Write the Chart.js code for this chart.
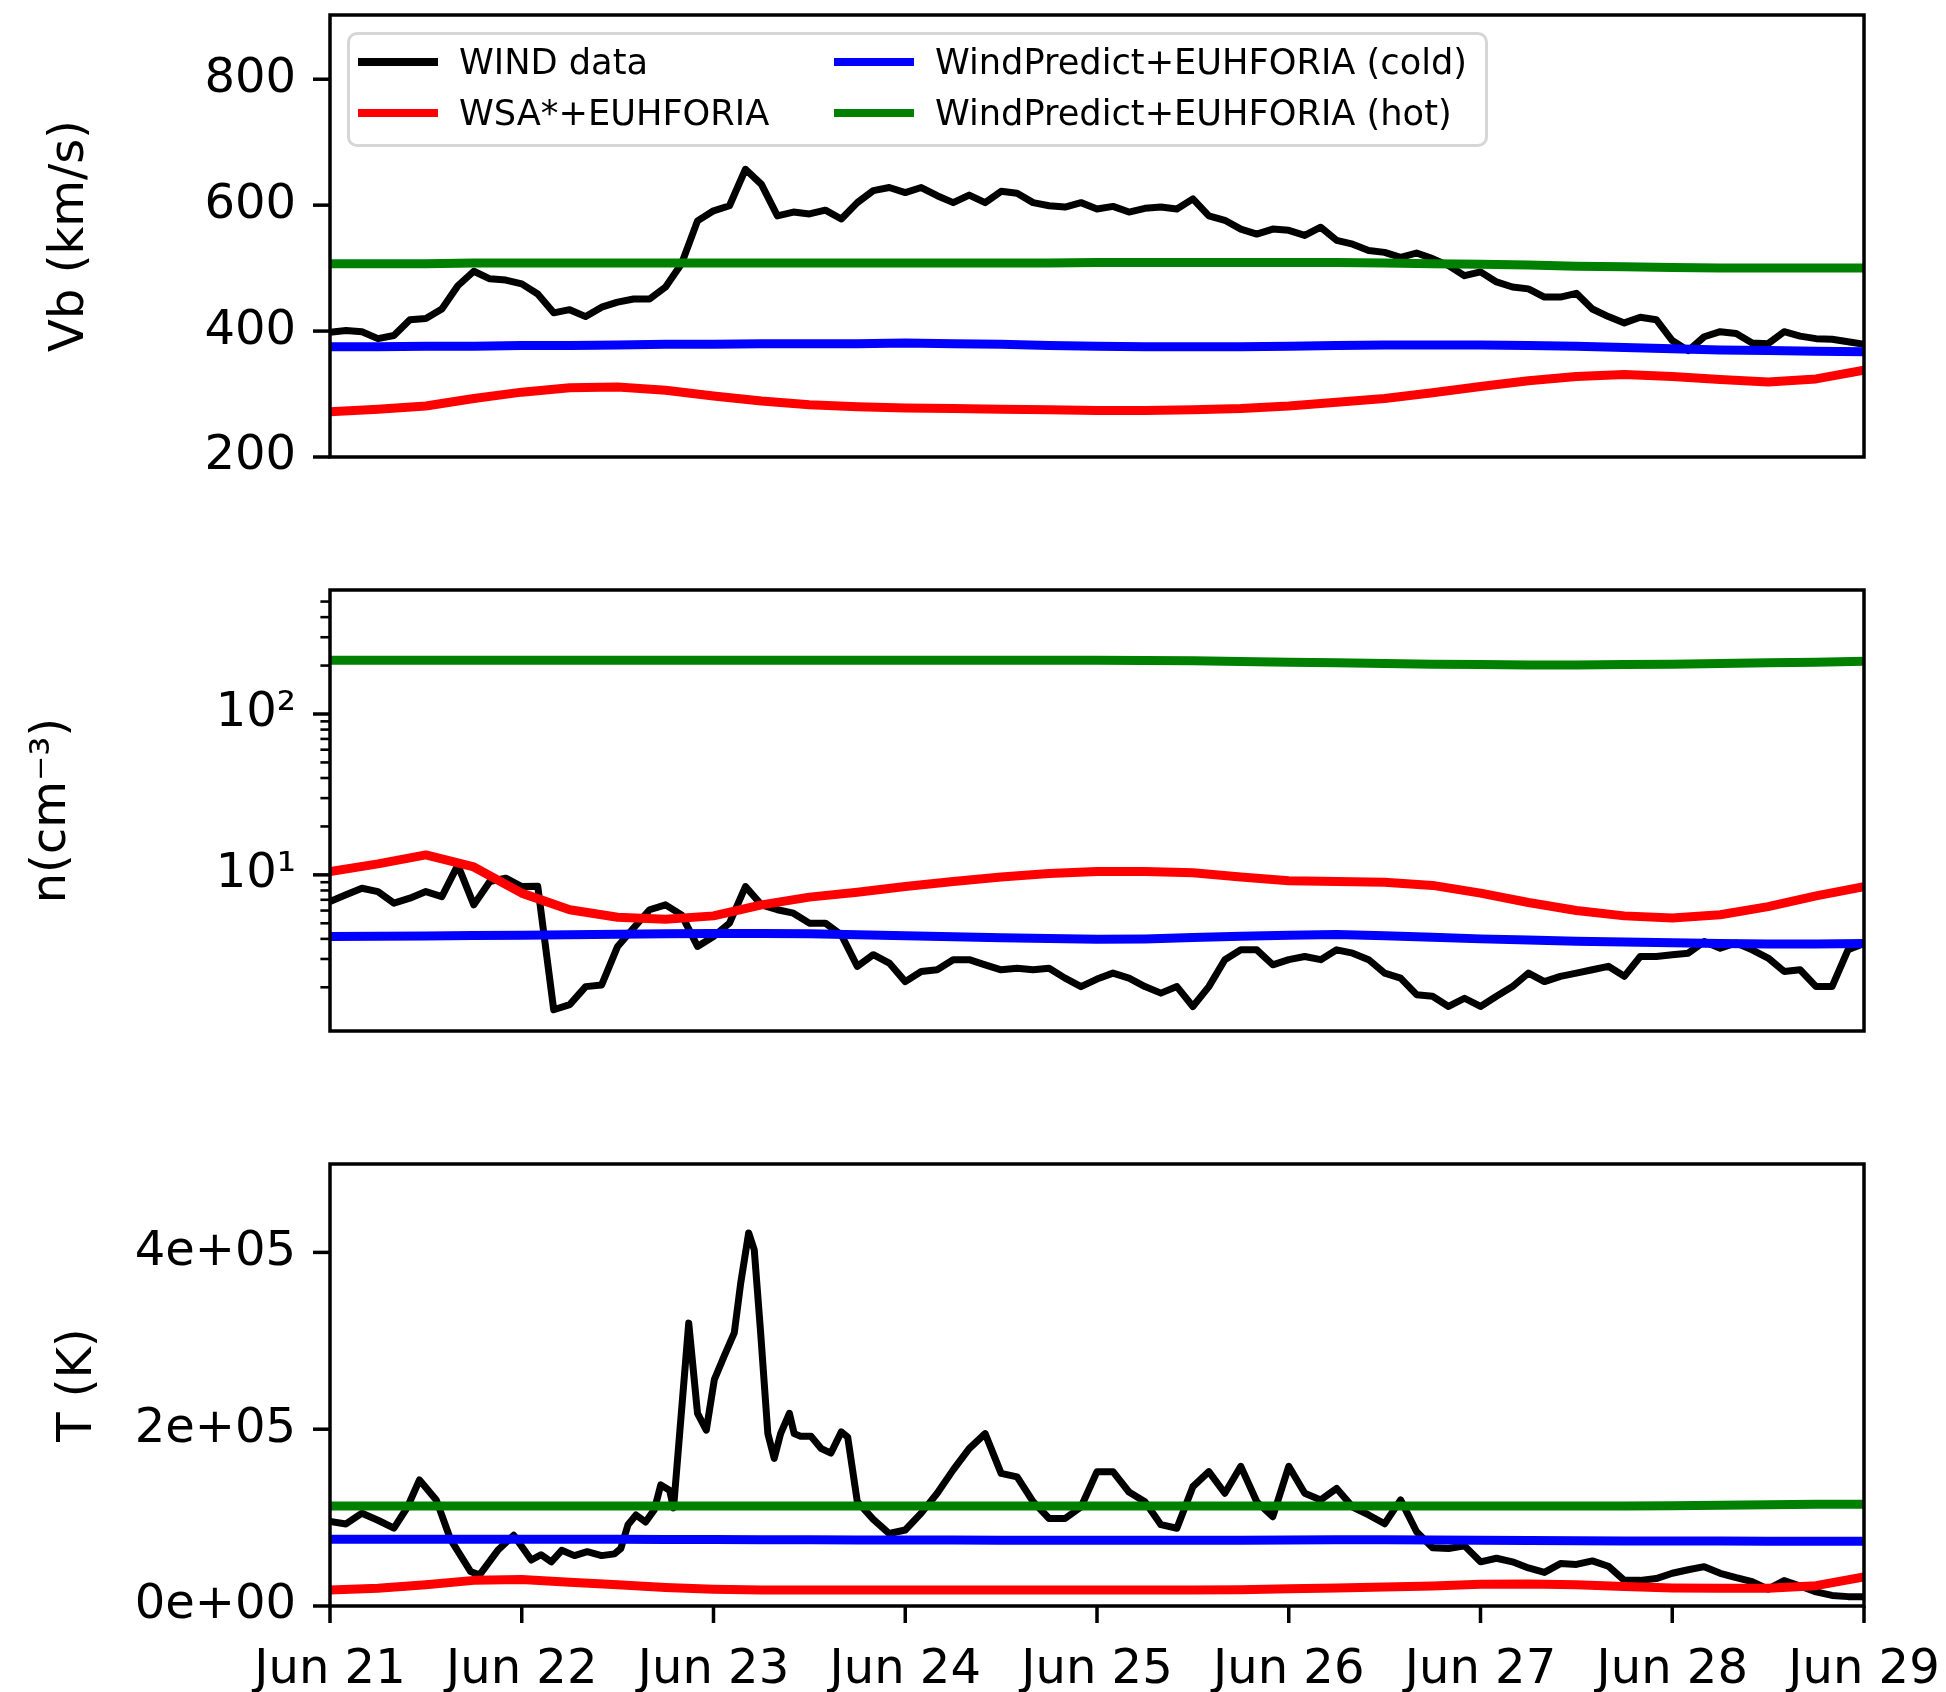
<!DOCTYPE html>
<html>
<head>
<meta charset="utf-8">
<title>WIND vs EUHFORIA</title>
<script src="https://cdn.jsdelivr.net/npm/chart.js@4.4.1/dist/chart.umd.min.js"></script>
<style>
  html, body { margin: 0; padding: 0; background: #fff; }
  #page { position: relative; width: 1946px; height: 1692px; overflow: hidden; background: #fff; }
  canvas { position: absolute; left: 0; }
  #legend {
    position: absolute; left: 347px; top: 32px; width: 1141px; height: 115px;
    box-sizing: border-box; border: 3px solid #d6d6d6; border-radius: 10px;
    background: rgba(255, 255, 255, 0.8);
    font-family: 'DejaVu Sans', sans-serif; font-size: 35.2px; color: #000;
  }
  .item { position: absolute; height: 40px; line-height: 40px; white-space: nowrap; }
  .item .swatch { position: absolute; left: 0; top: 16px; width: 80px; height: 8px; }
  .item .txt { position: absolute; left: 101px; top: 0; }
</style>
</head>
<body>
<div id="page">
  <canvas id="vbChart" width="1946" height="520" style="top:0px"></canvas>
  <canvas id="nChart" width="1946" height="560" style="top:530px"></canvas>
  <canvas id="tChart" width="1946" height="592" style="top:1100px"></canvas>
  <div id="legend"></div>
</div>
<script>
// ============================================================
// Solar wind at L1, Jun 21-29: WIND data vs EUHFORIA runs
// ============================================================

var xTickLabels = ['Jun 21', 'Jun 22', 'Jun 23', 'Jun 24', 'Jun 25', 'Jun 26', 'Jun 27', 'Jun 28', 'Jun 29'];
var seriesNames = ['WIND data', 'WSA*+EUHFORIA', 'WindPredict+EUHFORIA (cold)', 'WindPredict+EUHFORIA (hot)'];
var seriesColors = ['#000000', '#ff0000', '#0000ff', '#008000'];

// WIND observations, one sample every 2 h from Jun 21 00:00
var windStepHours = 2;
var windVb = [398, 401, 399, 388, 393, 418, 420, 435, 472, 495, 483, 481, 475, 459, 429, 434, 423, 438, 446, 451,
    451, 470, 507, 575, 591, 599, 657, 633, 583, 589, 586, 592, 578, 604, 623, 628, 620, 628, 615, 604,
    616, 604, 622, 619, 604, 599, 597, 604, 594, 598, 589, 595, 597, 594, 610, 583, 576, 562, 554, 562,
    560, 552, 565, 544, 538, 528, 525, 517, 524, 515, 504, 488, 494, 478, 470, 467, 454, 454, 460, 435,
    423, 413, 422, 418, 385, 369, 391, 399, 396, 381, 380, 399, 392, 388, 387, 383, 379];
var windN = [6.83, 7.52, 8.26, 7.87, 6.67, 7.16, 7.87, 7.33, 11.5, 6.51, 9.1, 9.54, 8.46, 8.5, 1.45, 1.56, 2.02, 2.07, 3.59, 4.67,
    6.07, 6.51, 5.64, 3.59, 4.14, 5.01, 8.46, 6.51, 6.07, 5.78, 5.01, 5.01, 4.24, 2.70, 3.19, 2.83, 2.17, 2.51, 2.57, 2.97,
    2.97, 2.76, 2.57, 2.63, 2.57, 2.63, 2.28, 2.02, 2.25, 2.45, 2.28, 2.02, 1.84, 2.02, 1.52, 2.02, 2.97, 3.42, 3.42, 2.76,
    2.97, 3.11, 2.97, 3.42, 3.26, 2.97, 2.45, 2.28, 1.80, 1.76, 1.52, 1.71, 1.52, 1.76, 2.02, 2.45, 2.17, 2.34, 2.45, 2.57,
    2.70, 2.34, 3.11, 3.11, 3.19, 3.26, 3.85, 3.50, 3.77, 3.42, 3.04, 2.51, 2.57, 2.02, 2.02, 3.42, 3.75];

// temperature keeps its own sample times (hours) so the narrow peaks survive
var windTHours = [0, 2, 4, 6, 8, 9.7, 11.2, 13.3, 15.1, 17.6, 18.7, 21, 23, 25.2, 26.4, 27.7, 29, 30.6, 32.2, 34,
    35.6, 36.4, 37.3, 38.3, 39.5, 40.6, 41.4, 42.5, 43, 44.9, 46, 47.1, 48.1, 49.4, 50.6, 51.4, 52.4, 53.1, 53.9, 54.8,
    55.6, 56.4, 57.5, 58.1, 58.9, 60.2, 61.5, 62.7, 64, 64.8, 66, 68, 70, 72, 74, 76, 78, 80, 82, 84,
    86, 88, 90, 92, 94, 96, 98, 100, 102, 104, 106, 108, 110, 112, 114, 116, 118, 120, 122, 124,
    126, 128, 130, 132, 134, 136, 138, 140, 142, 144, 146, 148, 150, 152, 154, 156, 158, 160, 162, 164,
    166, 168, 170, 172, 174, 176, 178, 180, 182, 184, 186, 188, 190, 192];
var windT = [95500, 92800, 105000, 97000, 88000, 112000, 142600, 120000, 75000, 39000, 35000, 63000, 80000, 52000, 58000, 50000, 63000, 57000, 61500, 57000,
    59000, 65000, 92000, 103000, 95000, 109000, 137000, 131000, 111000, 320000, 218000, 199000, 256000, 284000, 309000, 365000, 422000, 403000, 309000, 195000,
    167000, 195000, 218000, 195000, 192000, 192000, 178000, 173000, 197000, 191000, 118000, 98000, 82000, 86000, 105000, 127500, 154000, 178000, 195000, 150000,
    146000, 118000, 99000, 99000, 112000, 152000, 152000, 129000, 118000, 92000, 88000, 135000, 152000, 127500, 158000, 118000, 101000, 158000, 127500, 120000,
    133000, 112000, 103000, 93000, 120000, 84000, 66000, 65000, 68000, 50000, 54000, 50000, 43000, 38000, 48000, 47000, 51000, 45000, 29000, 29000,
    31000, 37000, 41000, 44500, 37000, 32000, 27500, 19000, 28700, 22600, 16000, 12000, 10600, 10600];

// model runs, one sample every 6 h
var modelStepHours = 6;
var wsaVb = [272, 276, 281, 293, 303, 310, 311, 306, 297, 289, 283, 280, 278, 277, 276, 275, 274,
    274, 275, 277, 281, 287, 293, 302, 312, 321, 328, 331, 328, 323, 319, 324, 338];
var coldVb = [375, 375, 376, 376, 377, 377, 378, 379, 379, 380, 380, 380, 381, 380, 379, 377, 376,
    375, 375, 375, 376, 377, 378, 378, 378, 377, 376, 374, 372, 370, 369, 368, 367];
var hotVb = [507, 507, 507, 508, 508, 508, 508, 508, 508, 508, 508, 508, 508, 508, 508, 508, 509,
    509, 509, 509, 509, 509, 508, 507, 506, 505, 503, 502, 501, 500, 500, 500, 500];

var wsaN = [10.5, 11.7, 13.3, 11.2, 7.7, 6.07, 5.45, 5.3, 5.56, 6.51, 7.27, 7.8, 8.46, 9.1, 9.7, 10.2, 10.5,
    10.5, 10.3, 9.7, 9.2, 9.1, 9.0, 8.6, 7.7, 6.73, 6.0, 5.56, 5.4, 5.65, 6.35, 7.4, 8.46];
var coldN = [4.14, 4.15, 4.17, 4.2, 4.22, 4.25, 4.28, 4.3, 4.32, 4.32, 4.3, 4.25, 4.18, 4.12, 4.06, 4.02, 3.98,
    4.0, 4.08, 4.15, 4.22, 4.26, 4.18, 4.1, 4.0, 3.93, 3.86, 3.82, 3.78, 3.74, 3.72, 3.72, 3.74];
var hotN = [216, 216, 216, 216, 216, 216, 216, 216, 216, 216, 216, 216, 216, 216, 216, 216, 216,
    215, 214, 212, 210, 208, 206, 204, 203, 202, 202, 203, 204, 206, 208, 210, 213];

var wsaT = [18000, 20000, 24000, 29000, 30000, 27000, 24000, 21000, 19000, 18000, 18000, 18000, 18000, 18000, 18000, 18000, 18000,
    18000, 18000, 18500, 19500, 20500, 21500, 22500, 24500, 25000, 24000, 22000, 20500, 20000, 20000, 23000, 33000];
var coldT = [75500, 75500, 75500, 75500, 75500, 75500, 75500, 75300, 75200, 75000, 75000, 74800, 74800, 74600, 74500, 74500, 74500,
    74500, 74500, 74500, 74800, 75000, 75000, 74800, 74500, 74000, 73800, 73600, 73500, 73400, 73300, 73200, 73200];
var hotT = [113000, 113000, 113000, 113000, 113000, 113000, 113000, 113000, 113000, 113000, 113000, 113000, 113000, 113000, 113000, 113000, 113000,
    113000, 113000, 113000, 113000, 113000, 113000, 113000, 113000, 113000, 113000, 113000, 113500, 114000, 114500, 115000, 115000];

// y tick positions
var vbTicks = [200, 400, 600, 800];
var nTicks = [2, 3, 4, 5, 6, 7, 8, 9, 10, 20, 30, 40, 50, 60, 70, 80, 90, 100, 200, 300, 400, 500];  // labelled at powers of ten
var tTicks = [0, 200000, 400000];

// ------------------------------------------------------------

var FONT = 'DejaVu Sans';
var AXIS_W = 330;       // left margin (y axis area)
var PAD_R = 82;         // right margin

function gridHours(step, n) {
    var out = [];
    for (var i = 0; i < n; i++) out.push(i * step);
    return out;
}

function toPoints(hours, values) {
    return values.map(function (v, i) { return { x: hours[i], y: v }; });
}

function lineSet(idx, hours, values) {
    return {
        label: seriesNames[idx],
        data: toPoints(hours, values),
        borderColor: seriesColors[idx],
        backgroundColor: seriesColors[idx],
        borderWidth: idx === 0 ? 7 : 9,
        borderJoinStyle: 'round',
        pointRadius: 0,
        tension: 0,
        fill: false,
        order: 4 - idx
    };
}

var isPow10 = function (v) {
    var l = Math.log10(v);
    return Math.abs(l - Math.round(l)) < 1e-9;
};

function fixedTicks(values) {
    return function (scale) {
        scale.ticks = values.map(function (v) { return { value: v }; });
    };
}

// matplotlib style frame + outward ticks
var frameTicks = {
    id: 'frameTicks',
    afterDraw: function (chart, args, opts) {
        var ctx = chart.ctx, a = chart.chartArea;
        ctx.save();
        ctx.strokeStyle = '#000';
        ctx.lineCap = 'butt';
        var ys = chart.scales.y;
        ys.ticks.forEach(function (t) {
            var py = ys.getPixelForValue(t.value);
            var major = opts.logMinor ? isPow10(t.value) : true;
            ctx.lineWidth = major ? 3.5 : 2.6;
            var len = major ? 17 : 9.6;
            ctx.beginPath();
            ctx.moveTo(a.left - len, py);
            ctx.lineTo(a.left, py);
            ctx.stroke();
        });
        if (opts.xTicks) {
            var xs = chart.scales.x;
            ctx.lineWidth = 3.5;
            xs.ticks.forEach(function (t) {
                var px = xs.getPixelForValue(t.value);
                ctx.beginPath();
                ctx.moveTo(px, a.bottom);
                ctx.lineTo(px, a.bottom + 17);
                ctx.stroke();
            });
        }
        ctx.lineWidth = 3.5;
        ctx.strokeRect(a.left, a.top, a.right - a.left, a.bottom - a.top);
        ctx.restore();
    }
};

function makePanel(canvasId, cfg) {
    var ctx = document.getElementById(canvasId);
    var showX = !!cfg.showX;
    var yScale = {
        type: cfg.yType,
        position: 'left',
        min: cfg.yMin,
        max: cfg.yMax,
        border: { display: false },
        grid: { display: true, drawOnChartArea: false, drawTicks: false },
        ticks: {
            color: '#000',
            font: { family: FONT, size: 48 },
            padding: 34,
            autoSkip: false,
            callback: cfg.yLabel
        },
        title: {
            display: true,
            text: cfg.yTitle,
            color: '#000',
            font: { family: FONT, size: 48 },
            padding: { top: cfg.titlePad, bottom: 0 }
        },
        afterBuildTicks: fixedTicks(cfg.yTicks),
        afterFit: function (scale) {
            scale.width = AXIS_W;
            scale.paddingTop = 0;
            scale.paddingBottom = 0;
        }
    };

    return new Chart(ctx, {
        type: 'line',
        data: { datasets: cfg.datasets },
        options: {
            responsive: false,
            devicePixelRatio: 1,
            animation: false,
            events: [],
            layout: { padding: { left: 0, right: PAD_R, top: cfg.padTop, bottom: cfg.padBottom } },
            plugins: {
                legend: { display: false },
                tooltip: { enabled: false },
                frameTicks: { xTicks: showX, logMinor: cfg.yType === 'logarithmic' }
            },
            scales: {
                x: {
                    type: 'linear',
                    min: 0,
                    max: 192,
                    display: showX,
                    border: { display: false },
                    grid: { display: true, drawOnChartArea: false, drawTicks: false },
                    ticks: {
                        autoSkip: false,
                        maxRotation: 0,
                        padding: 36,
                        color: '#000',
                        font: { family: FONT, size: 48 },
                        callback: function (v) { return xTickLabels[Math.round(v / 24)]; }
                    },
                    afterBuildTicks: fixedTicks([0, 24, 48, 72, 96, 120, 144, 168, 192]),
                    afterFit: function (scale) {
                        if (showX) scale.height = 86;
                        scale.paddingLeft = 0;
                        scale.paddingRight = 0;
                    }
                },
                y: yScale
            }
        },
        plugins: [frameTicks]
    });
}

var windHours = gridHours(windStepHours, windVb.length);
var modelHours = gridHours(modelStepHours, wsaVb.length);

makePanel('vbChart', {
    yTitle: 'Vb (km/s)',
    titlePad: 42,
    padTop: 15,
    padBottom: 63,
    yType: 'linear', yMin: 200, yMax: 902,
    yTicks: vbTicks,
    yLabel: function (v) { return String(v); },
    datasets: [
        lineSet(0, windHours, windVb),
        lineSet(1, modelHours, wsaVb),
        lineSet(2, modelHours, coldVb),
        lineSet(3, modelHours, hotVb)
    ]
});

makePanel('nChart', {
    yTitle: 'n(cm\u207B\u00B3)',
    titlePad: 24,
    padTop: 60,
    padBottom: 59,
    yType: 'logarithmic', yMin: 1.07, yMax: 590,
    yTicks: nTicks,
    yLabel: function (v) {
        if (!isPow10(v)) return '';
        var e = Math.round(Math.log10(v));
        var sup = { 0: '\u2070', 1: '\u00B9', 2: '\u00B2', 3: '\u00B3' };
        return '10' + sup[e];
    },
    datasets: [
        lineSet(0, windHours, windN),
        lineSet(1, modelHours, wsaN),
        lineSet(2, modelHours, coldN),
        lineSet(3, modelHours, hotN)
    ]
});

makePanel('tChart', {
    yTitle: 'T (K)',
    titlePad: 50,
    padTop: 64,
    padBottom: 0,
    showX: true,
    yType: 'linear', yMin: 0, yMax: 500000,
    yTicks: tTicks,
    yLabel: function (v) {
        if (v === 0) return '0e+00';
        var e = Math.floor(Math.log10(Math.abs(v)));
        var m = Math.round(v / Math.pow(10, e));
        return m + 'e+' + (e < 10 ? '0' + e : e);
    },
    datasets: [
        lineSet(0, windTHours, windT),
        lineSet(1, modelHours, wsaT),
        lineSet(2, modelHours, coldT),
        lineSet(3, modelHours, hotT)
    ]
});

// legend: two columns, filled column-wise like the original
(function buildLegend() {
    var box = document.getElementById('legend');
    var cols = [[0, 1], [2, 3]];
    var colLeft = [8, 484];
    var rowCenter = [27, 78];
    cols.forEach(function (col, c) {
        col.forEach(function (idx, r) {
            var item = document.createElement('div');
            item.className = 'item';
            item.style.left = colLeft[c] + 'px';
            item.style.top = (rowCenter[r] - 20) + 'px';
            var sw = document.createElement('div');
            sw.className = 'swatch';
            sw.style.background = seriesColors[idx];
            var tx = document.createElement('span');
            tx.className = 'txt';
            tx.textContent = seriesNames[idx];
            item.appendChild(sw);
            item.appendChild(tx);
            box.appendChild(item);
        });
    });
})();
</script>
</body>
</html>
